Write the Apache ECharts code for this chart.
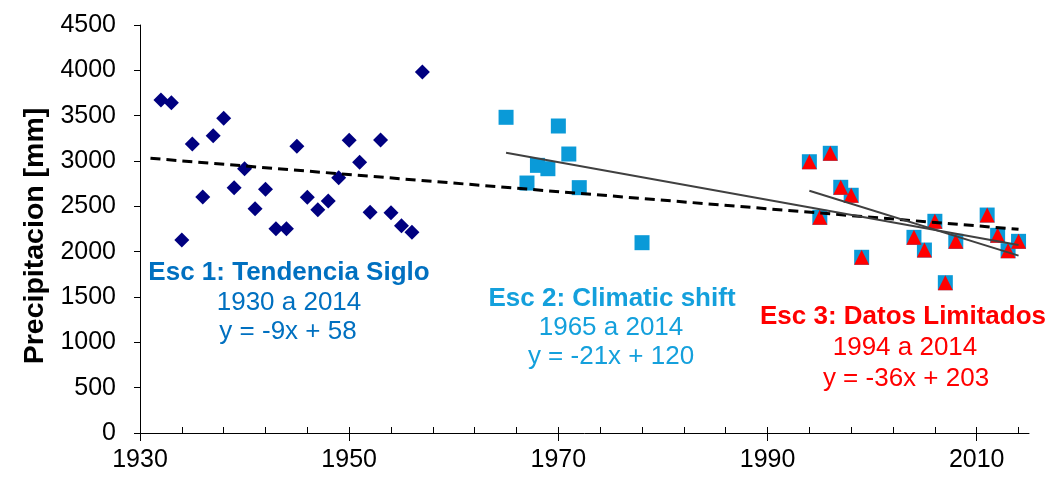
<!DOCTYPE html>
<html>
<head>
<meta charset="utf-8">
<script src="https://cdn.jsdelivr.net/npm/echarts@6/dist/echarts.min.js"></script>
<style>
    html, body { margin: 0; padding: 0; background: #fff; }
    #chart { width: 1064px; height: 483px; }
</style>
</head>
<body>
<div id="chart"></div>
<script>
// Esc 1: siglo completo (rombos)
const years1 = [1932, 1933, 1934, 1935, 1936, 1937, 1938, 1939, 1940, 1941, 1942, 1943, 1944,
    1945, 1946, 1947, 1948, 1949, 1950, 1951, 1952, 1953, 1954, 1955, 1956, 1957]
const precip1 = [3673, 3643, 2129, 3187, 2603, 3279, 3471, 2705, 2915, 2474, 2688, 2253, 2253,
    3162, 2600, 2463, 2559, 2816, 3228, 2986, 2434, 3232, 2430, 2286, 2214, 3982]

// Esc 2: climatic shift (cuadrados)
const years2 = [1965, 1967, 1968, 1969, 1970, 1971, 1972, 1978,
    1994, 1995, 1996, 1997, 1998, 1999, 2004, 2005, 2006, 2007, 2008, 2011, 2012, 2013, 2014]
const precip2 = [3482, 2757, 2952, 2915, 3386, 3077, 2706, 2099,
    2992, 2379, 3085, 2710, 2622, 1938, 2158, 2018, 2335, 1658, 2114, 2404, 2180, 2011, 2114]

// Esc 3: datos limitados (triangulos)
const years3 = [1994, 1995, 1996, 1997, 1998, 1999, 2004, 2005, 2006, 2007, 2008, 2011, 2012, 2013, 2014]
const precip3 = [2992, 2379, 3085, 2710, 2622, 1938, 2158, 2018, 2335, 1658, 2114, 2404, 2180, 2011, 2114]

// tendencias (inicio, fin)
const trend1 = [[1931, 3030], [2014, 2247]]
const trend2 = [[1965, 3092], [2014, 2074]]
const trend3 = [[1994, 2672], [2014, 1956]]

// ejes
const xLabelYears = [1930, 1950, 1970, 1990, 2010]
const xTickYears = [1930, 1934, 1938, 1942, 1946, 1950, 1954, 1958, 1962, 1966, 1970,
    1974, 1978, 1982, 1986, 1990, 1994, 1998, 2002, 2006, 2010, 2014]

const font = 'Arial, "Liberation Sans", sans-serif'

function pairs (xs, ys) {
    return xs.map((x, i) => [x, ys[i]])
}

function note (x, y, text, color, bold) {
    return {
        type: 'text',
        x: x,
        y: y,
        style: {
            text: text,
            fill: color,
            fontSize: 26,
            fontWeight: bold ? 'bold' : 'normal',
            fontFamily: font,
            align: 'center',
            verticalAlign: 'middle'
        }
    }
}

// sin separador de miles
const plain = v => String(v)

let myChart = echarts.init(document.getElementById('chart'))
myChart.setOption({
    animation: false,
    grid: { left: 140, right: 35, top: 25, bottom: 50 },
    xAxis: [{
        type: 'value',
        min: 1930,
        max: 2015,
        position: 'bottom',
        splitLine: { show: false },
        axisLine: { lineStyle: { color: '#000', width: 1 } },
        axisTick: { customValues: xLabelYears, length: 8, lineStyle: { color: '#000' } },
        axisLabel: {
            customValues: xLabelYears,
            formatter: plain,
            color: '#000',
            fontSize: 25,
            fontFamily: font,
            margin: 15
        }
    }, {
        // marcas menores hacia adentro
        type: 'value',
        min: 1930,
        max: 2015,
        position: 'bottom',
        offset: 0,
        splitLine: { show: false },
        axisLine: { show: false },
        axisTick: { customValues: xTickYears, inside: true, length: 6, lineStyle: { color: '#000' } },
        axisLabel: { show: false }
    }],
    yAxis: {
        type: 'value',
        min: 0,
        max: 4500,
        interval: 500,
        name: 'Precipitacion [mm]',
        nameLocation: 'middle',
        nameGap: 87,
        nameTextStyle: {
            color: '#000',
            fontSize: 28.5,
            fontWeight: 'bold',
            fontFamily: font,
            padding: [0, 14, 0, 0]
        },
        splitLine: { show: false },
        axisLine: { show: true, lineStyle: { color: '#000', width: 1 } },
        axisTick: { show: true, length: 6, lineStyle: { color: '#000' } },
        axisLabel: { formatter: plain, color: '#000', fontSize: 25, fontFamily: font, margin: 24 }
    },
    series: [{
        name: 'Esc 1',
        type: 'scatter',
        symbol: 'diamond',
        symbolSize: 15,
        itemStyle: { color: '#000080', opacity: 1 },
        data: pairs(years1, precip1)
    }, {
        name: 'Esc 2',
        type: 'scatter',
        symbol: 'rect',
        symbolSize: 15,
        itemStyle: { color: '#0A9AD8', opacity: 1 },
        data: pairs(years2, precip2)
    }, {
        name: 'Esc 3',
        type: 'scatter',
        symbol: 'triangle',
        symbolSize: 15,
        itemStyle: { color: '#FF0000', opacity: 1 },
        z: 3,
        data: pairs(years3, precip3)
    }, {
        type: 'line',
        showSymbol: false,
        z: 5,
        lineStyle: { color: '#000', width: 3, type: [10, 6] },
        data: trend1
    }, {
        type: 'line',
        showSymbol: false,
        z: 5,
        lineStyle: { color: '#404040', width: 2 },
        data: trend2
    }, {
        type: 'line',
        showSymbol: false,
        z: 5,
        lineStyle: { color: '#404040', width: 2 },
        data: trend3
    }],
    graphic: [
        note(289, 273, 'Esc 1: Tendencia Siglo', '#0070C0', true),
        note(289, 303, '1930 a 2014', '#0070C0', false),
        note(288, 332, 'y = -9x + 58', '#0070C0', false),
        note(612, 299, 'Esc 2: Climatic shift', '#14A0DC', true),
        note(611, 328, '1965 a 2014', '#14A0DC', false),
        note(611, 357, 'y = -21x + 120', '#14A0DC', false),
        note(903, 317, 'Esc 3: Datos Limitados', '#FF0000', true),
        note(905, 348, '1994 a 2014', '#FF0000', false),
        note(906, 379, 'y = -36x + 203', '#FF0000', false)
    ]
})
window.addEventListener('resize', function () {
    myChart.resize()
})
</script>
</body>
</html>
